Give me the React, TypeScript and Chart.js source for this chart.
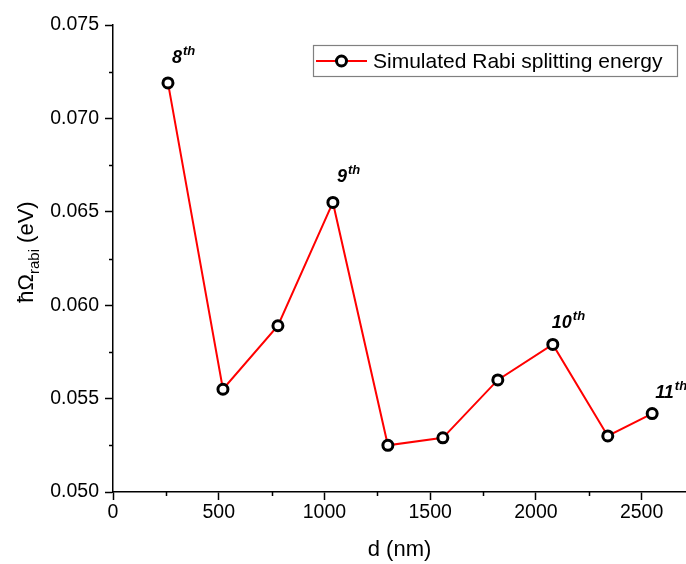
import { useEffect, useRef } from 'react';
import { Chart, registerables } from 'chart.js';

Chart.register(...registerables);

// ---- data ----
const dValues = [260, 520, 780, 1040, 1300, 1560, 1820, 2080, 2340, 2550];
const rabiEnergy = [0.0719, 0.0555, 0.0589, 0.0655, 0.0525, 0.0529, 0.056, 0.0579, 0.053, 0.0542];
const xTickValues = [0, 500, 1000, 1500, 2000, 2500];
const yTickValues = [0.05, 0.055, 0.06, 0.065, 0.07, 0.075];
const orderPointIndex = [0, 3, 7, 9];
const orderNumbers = ['8', '9', '10', '11'];
const orderSuffix = 'th';
const seriesName = 'Simulated Rabi splitting energy';
const xTitle = 'd (nm)';
const yTitleMain = 'ħΩ';
const yTitleSub = 'rabi';
const yTitleUnit = ' (eV)';

const FONT = '"Liberation Sans", Arial, Helvetica, sans-serif';

const decorPlugin = {
  id: 'decor',
  afterDraw(chart: any) {
    const ctx: CanvasRenderingContext2D = chart.ctx;
    const xs = chart.scales.x;
    const ys = chart.scales.y;
    const { left, right, bottom } = chart.chartArea;
    ctx.save();

    // minor ticks (midway between major ticks)
    ctx.strokeStyle = '#000';
    ctx.lineWidth = 1.5;
    ctx.beginPath();
    for (let i = 0; i < xTickValues.length; i++) {
      const a = xTickValues[i];
      const b = i + 1 < xTickValues.length ? xTickValues[i + 1] : a + (a - xTickValues[i - 1]);
      const v = (a + b) / 2;
      if (v >= xs.max) continue;
      const px = Math.round(xs.getPixelForValue(v)) + 0.5;
      ctx.moveTo(px, bottom);
      ctx.lineTo(px, bottom + 4);
    }
    for (let i = 0; i + 1 < yTickValues.length; i++) {
      const v = (yTickValues[i] + yTickValues[i + 1]) / 2;
      const py = Math.round(ys.getPixelForValue(v)) + 0.5;
      ctx.moveTo(left, py);
      ctx.lineTo(left - 4, py);
    }
    ctx.stroke();

    // x title
    ctx.fillStyle = '#000';
    ctx.font = `22px ${FONT}`;
    ctx.textAlign = 'center';
    ctx.textBaseline = 'middle';
    ctx.fillText(xTitle, (left + right) / 2, 550);

    // y title with subscript
    ctx.save();
    ctx.textAlign = 'left';
    ctx.textBaseline = 'alphabetic';
    ctx.font = `22px ${FONT}`;
    const wMain = ctx.measureText(yTitleMain).width;
    ctx.font = `15px ${FONT}`;
    const wSub = ctx.measureText(yTitleSub).width;
    ctx.font = `22px ${FONT}`;
    const wUnit = ctx.measureText(yTitleUnit).width;
    const total = wMain + wSub + wUnit;
    const cy = 252;
    ctx.translate(33, cy + total / 2);
    ctx.rotate(-Math.PI / 2);
    ctx.font = `22px ${FONT}`;
    ctx.fillText(yTitleMain, 0, 0);
    ctx.font = `15px ${FONT}`;
    ctx.fillText(yTitleSub, wMain, 6);
    ctx.font = `22px ${FONT}`;
    ctx.fillText(yTitleUnit, wMain + wSub, 0);
    ctx.restore();

    // order annotations
    const meta = chart.getDatasetMeta(0);
    const offsets = [[4, -20], [4, -20], [-1, -16], [3, -16]];
    ctx.textAlign = 'left';
    ctx.textBaseline = 'alphabetic';
    orderPointIndex.forEach((idx, k) => {
      const pt = meta.data[idx];
      const x0 = pt.x + offsets[k][0];
      const y0 = pt.y + offsets[k][1];
      ctx.font = `italic bold 18px ${FONT}`;
      ctx.fillText(orderNumbers[k], x0, y0);
      const w = ctx.measureText(orderNumbers[k]).width;
      ctx.font = `italic bold 13px ${FONT}`;
      ctx.fillText(orderSuffix, x0 + w + 1, y0 - 8);
    });

    // legend
    const bx = 313.5, by = 45.5, bw = 364, bh = 31;
    ctx.strokeStyle = '#808080';
    ctx.lineWidth = 1.2;
    ctx.strokeRect(bx, by, bw, bh);
    const ly = by + bh / 2;
    ctx.strokeStyle = '#ff0000';
    ctx.lineWidth = 2;
    ctx.beginPath();
    ctx.moveTo(316, ly);
    ctx.lineTo(367, ly);
    ctx.stroke();
    ctx.beginPath();
    ctx.arc(341.5, ly, 5, 0, Math.PI * 2);
    ctx.fillStyle = '#fff';
    ctx.fill();
    ctx.strokeStyle = '#000';
    ctx.lineWidth = 3;
    ctx.stroke();
    ctx.fillStyle = '#000';
    ctx.font = `21px ${FONT}`;
    ctx.textBaseline = 'middle';
    ctx.fillText(seriesName, 373, ly + 1);

    ctx.restore();
  },
};

export default function App() {
  const ref = useRef<HTMLCanvasElement>(null);
  useEffect(() => {
    if (!ref.current) return;
    const chart = new Chart(ref.current, {
      type: 'scatter',
      data: {
        datasets: [
          {
            label: seriesName,
            data: dValues.map((d, i) => ({ x: d, y: rabiEnergy[i] })),
            showLine: true,
            borderColor: '#ff0000',
            borderWidth: 2,
            pointRadius: 5,
            pointHoverRadius: 5,
            pointBorderWidth: 3,
            pointBorderColor: '#000',
            pointBackgroundColor: '#fff',
          },
        ],
      },
      options: {
        animation: false,
        responsive: false,
        devicePixelRatio: 1,
        layout: { autoPadding: false, padding: { top: 25, right: 0, left: 0, bottom: 0 } },
        plugins: {
          legend: { display: false },
          tooltip: { enabled: false },
        },
        scales: {
          x: {
            type: 'linear',
            min: 0,
            max: 2710,
            grid: {
              drawOnChartArea: false,
              drawTicks: true,
              tickLength: 8,
              tickWidth: 1.5,
              tickColor: '#000',
            },
            border: { display: true, color: '#000', width: 1.5 },
            ticks: {
              color: '#000',
              font: { family: FONT, size: 19.5 },
              padding: 1,
              maxRotation: 0,
              autoSkip: false,
              callback: (v: any) => String(v),
            },
            afterBuildTicks: (s: any) => {
              s.ticks = xTickValues.map((v) => ({ value: v }));
            },
            afterFit: (s: any) => {
              s.height = 72;
            },
          },
          y: {
            type: 'linear',
            min: 0.05,
            max: 0.075,
            grid: {
              drawOnChartArea: false,
              drawTicks: true,
              tickLength: 8,
              tickWidth: 1.5,
              tickColor: '#000',
            },
            border: { display: true, color: '#000', width: 1.5 },
            ticks: {
              color: '#000',
              font: { family: FONT, size: 19.5 },
              padding: 6,
              autoSkip: false,
              callback: (v: any) => Number(v).toFixed(3),
            },
            afterBuildTicks: (s: any) => {
              s.ticks = yTickValues.map((v) => ({ value: v }));
            },
            afterFit: (s: any) => {
              s.width = 113;
            },
          },
        },
      },
      plugins: [decorPlugin],
    });
    return () => chart.destroy();
  }, []);
  return (
    <div style={{ position: 'absolute', left: 0, top: 0, width: 686, height: 564, background: '#fff' }}>
      <canvas ref={ref} width={686} height={564} style={{ display: 'block', width: 686, height: 564 }} />
    </div>
  );
}
